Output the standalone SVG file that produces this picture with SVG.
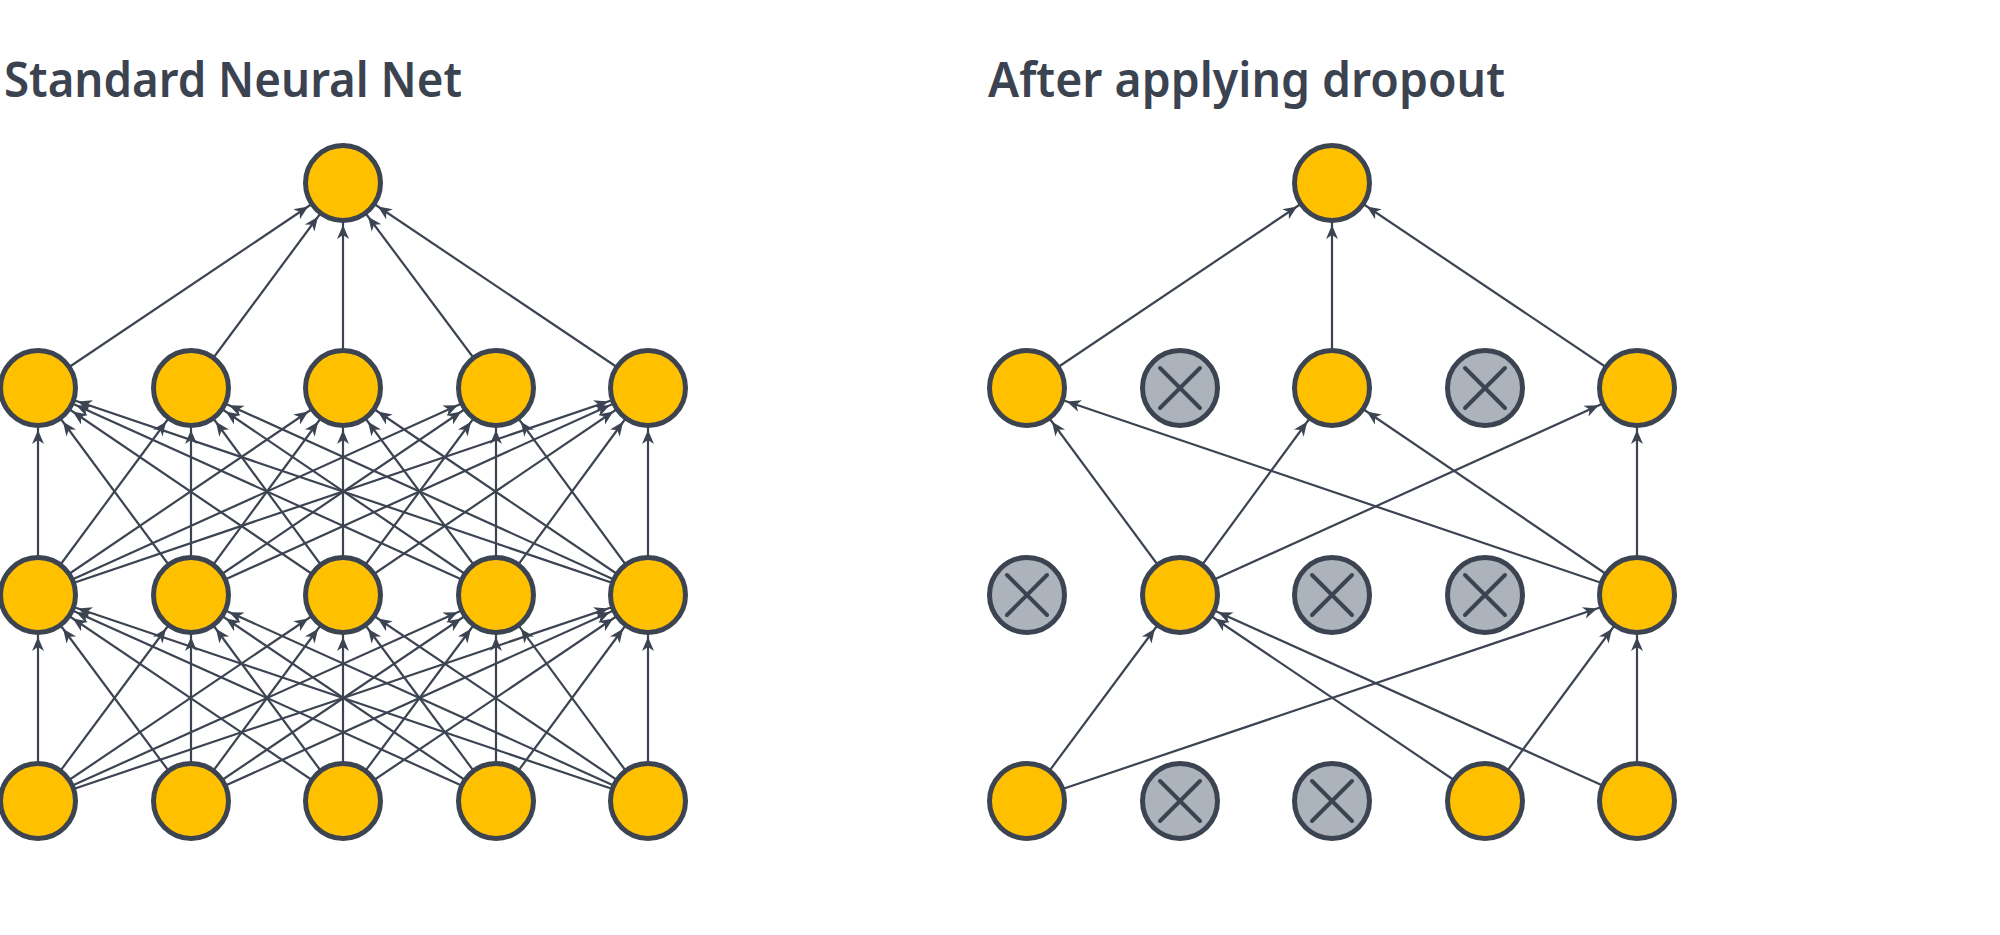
<svg xmlns="http://www.w3.org/2000/svg" width="2000" height="935" viewBox="0 0 2000 935">
<style>
.t{font-family:"Noto Sans","Liberation Sans",sans-serif;font-weight:600;font-size:48px;fill:#3b4250}
.e{stroke:#3c4452;stroke-width:2.2;fill:none}
.n{fill:#ffc000;stroke:#3c4452;stroke-width:5}
.d{fill:#adb3bb;stroke:#3c4452;stroke-width:5}
.x{stroke:#3c4452;stroke-width:4;stroke-linecap:round}
</style>
<defs>
<marker id="ah" markerUnits="userSpaceOnUse" markerWidth="60" markerHeight="20" viewBox="-60 -10 60 20" refX="0" refY="0" orient="auto">
<path d="M-42,0 L-56,-6 L-52,0 L-56,6 Z" fill="#3c4452"/>
</marker>
</defs>
<rect width="2000" height="935" fill="#ffffff"/>
<text class="t" x="4" y="97" textLength="458" lengthAdjust="spacingAndGlyphs">Standard Neural Net</text>
<text class="t" x="988" y="97" textLength="517" lengthAdjust="spacingAndGlyphs">After applying dropout</text>
<g id="connectors">
<line class="e" x1="38" y1="801" x2="38" y2="595" marker-end="url(#ah)"/>
<line class="e" x1="38" y1="801" x2="191" y2="595" marker-end="url(#ah)"/>
<line class="e" x1="38" y1="801" x2="343" y2="595" marker-end="url(#ah)"/>
<line class="e" x1="38" y1="801" x2="496" y2="595" marker-end="url(#ah)"/>
<line class="e" x1="38" y1="801" x2="648" y2="595" marker-end="url(#ah)"/>
<line class="e" x1="191" y1="801" x2="38" y2="595" marker-end="url(#ah)"/>
<line class="e" x1="191" y1="801" x2="191" y2="595" marker-end="url(#ah)"/>
<line class="e" x1="191" y1="801" x2="343" y2="595" marker-end="url(#ah)"/>
<line class="e" x1="191" y1="801" x2="496" y2="595" marker-end="url(#ah)"/>
<line class="e" x1="191" y1="801" x2="648" y2="595" marker-end="url(#ah)"/>
<line class="e" x1="343" y1="801" x2="38" y2="595" marker-end="url(#ah)"/>
<line class="e" x1="343" y1="801" x2="191" y2="595" marker-end="url(#ah)"/>
<line class="e" x1="343" y1="801" x2="343" y2="595" marker-end="url(#ah)"/>
<line class="e" x1="343" y1="801" x2="496" y2="595" marker-end="url(#ah)"/>
<line class="e" x1="343" y1="801" x2="648" y2="595" marker-end="url(#ah)"/>
<line class="e" x1="496" y1="801" x2="38" y2="595" marker-end="url(#ah)"/>
<line class="e" x1="496" y1="801" x2="191" y2="595" marker-end="url(#ah)"/>
<line class="e" x1="496" y1="801" x2="343" y2="595" marker-end="url(#ah)"/>
<line class="e" x1="496" y1="801" x2="496" y2="595" marker-end="url(#ah)"/>
<line class="e" x1="496" y1="801" x2="648" y2="595" marker-end="url(#ah)"/>
<line class="e" x1="648" y1="801" x2="38" y2="595" marker-end="url(#ah)"/>
<line class="e" x1="648" y1="801" x2="191" y2="595" marker-end="url(#ah)"/>
<line class="e" x1="648" y1="801" x2="343" y2="595" marker-end="url(#ah)"/>
<line class="e" x1="648" y1="801" x2="496" y2="595" marker-end="url(#ah)"/>
<line class="e" x1="648" y1="801" x2="648" y2="595" marker-end="url(#ah)"/>
<line class="e" x1="38" y1="595" x2="38" y2="388" marker-end="url(#ah)"/>
<line class="e" x1="38" y1="595" x2="191" y2="388" marker-end="url(#ah)"/>
<line class="e" x1="38" y1="595" x2="343" y2="388" marker-end="url(#ah)"/>
<line class="e" x1="38" y1="595" x2="496" y2="388" marker-end="url(#ah)"/>
<line class="e" x1="38" y1="595" x2="648" y2="388" marker-end="url(#ah)"/>
<line class="e" x1="191" y1="595" x2="38" y2="388" marker-end="url(#ah)"/>
<line class="e" x1="191" y1="595" x2="191" y2="388" marker-end="url(#ah)"/>
<line class="e" x1="191" y1="595" x2="343" y2="388" marker-end="url(#ah)"/>
<line class="e" x1="191" y1="595" x2="496" y2="388" marker-end="url(#ah)"/>
<line class="e" x1="191" y1="595" x2="648" y2="388" marker-end="url(#ah)"/>
<line class="e" x1="343" y1="595" x2="38" y2="388" marker-end="url(#ah)"/>
<line class="e" x1="343" y1="595" x2="191" y2="388" marker-end="url(#ah)"/>
<line class="e" x1="343" y1="595" x2="343" y2="388" marker-end="url(#ah)"/>
<line class="e" x1="343" y1="595" x2="496" y2="388" marker-end="url(#ah)"/>
<line class="e" x1="343" y1="595" x2="648" y2="388" marker-end="url(#ah)"/>
<line class="e" x1="496" y1="595" x2="38" y2="388" marker-end="url(#ah)"/>
<line class="e" x1="496" y1="595" x2="191" y2="388" marker-end="url(#ah)"/>
<line class="e" x1="496" y1="595" x2="343" y2="388" marker-end="url(#ah)"/>
<line class="e" x1="496" y1="595" x2="496" y2="388" marker-end="url(#ah)"/>
<line class="e" x1="496" y1="595" x2="648" y2="388" marker-end="url(#ah)"/>
<line class="e" x1="648" y1="595" x2="38" y2="388" marker-end="url(#ah)"/>
<line class="e" x1="648" y1="595" x2="191" y2="388" marker-end="url(#ah)"/>
<line class="e" x1="648" y1="595" x2="343" y2="388" marker-end="url(#ah)"/>
<line class="e" x1="648" y1="595" x2="496" y2="388" marker-end="url(#ah)"/>
<line class="e" x1="648" y1="595" x2="648" y2="388" marker-end="url(#ah)"/>
<line class="e" x1="38" y1="388" x2="343" y2="183" marker-end="url(#ah)"/>
<line class="e" x1="191" y1="388" x2="343" y2="183" marker-end="url(#ah)"/>
<line class="e" x1="343" y1="388" x2="343" y2="183" marker-end="url(#ah)"/>
<line class="e" x1="496" y1="388" x2="343" y2="183" marker-end="url(#ah)"/>
<line class="e" x1="648" y1="388" x2="343" y2="183" marker-end="url(#ah)"/>
<line class="e" x1="1027" y1="801" x2="1180" y2="595" marker-end="url(#ah)"/>
<line class="e" x1="1027" y1="801" x2="1637" y2="595" marker-end="url(#ah)"/>
<line class="e" x1="1485" y1="801" x2="1180" y2="595" marker-end="url(#ah)"/>
<line class="e" x1="1485" y1="801" x2="1637" y2="595" marker-end="url(#ah)"/>
<line class="e" x1="1637" y1="801" x2="1180" y2="595" marker-end="url(#ah)"/>
<line class="e" x1="1637" y1="801" x2="1637" y2="595" marker-end="url(#ah)"/>
<line class="e" x1="1180" y1="595" x2="1027" y2="388" marker-end="url(#ah)"/>
<line class="e" x1="1180" y1="595" x2="1332" y2="388" marker-end="url(#ah)"/>
<line class="e" x1="1180" y1="595" x2="1637" y2="388" marker-end="url(#ah)"/>
<line class="e" x1="1637" y1="595" x2="1027" y2="388" marker-end="url(#ah)"/>
<line class="e" x1="1637" y1="595" x2="1332" y2="388" marker-end="url(#ah)"/>
<line class="e" x1="1637" y1="595" x2="1637" y2="388" marker-end="url(#ah)"/>
<line class="e" x1="1027" y1="388" x2="1332" y2="183" marker-end="url(#ah)"/>
<line class="e" x1="1332" y1="388" x2="1332" y2="183" marker-end="url(#ah)"/>
<line class="e" x1="1637" y1="388" x2="1332" y2="183" marker-end="url(#ah)"/>
</g>
<g id="L-top"><circle class="n" cx="343" cy="183" r="37.5"/></g>
<g id="L-h1-1"><circle class="n" cx="38" cy="388" r="37.5"/></g>
<g id="L-h1-2"><circle class="n" cx="191" cy="388" r="37.5"/></g>
<g id="L-h1-3"><circle class="n" cx="343" cy="388" r="37.5"/></g>
<g id="L-h1-4"><circle class="n" cx="496" cy="388" r="37.5"/></g>
<g id="L-h1-5"><circle class="n" cx="648" cy="388" r="37.5"/></g>
<g id="L-h2-1"><circle class="n" cx="38" cy="595" r="37.5"/></g>
<g id="L-h2-2"><circle class="n" cx="191" cy="595" r="37.5"/></g>
<g id="L-h2-3"><circle class="n" cx="343" cy="595" r="37.5"/></g>
<g id="L-h2-4"><circle class="n" cx="496" cy="595" r="37.5"/></g>
<g id="L-h2-5"><circle class="n" cx="648" cy="595" r="37.5"/></g>
<g id="L-in-1"><circle class="n" cx="38" cy="801" r="37.5"/></g>
<g id="L-in-2"><circle class="n" cx="191" cy="801" r="37.5"/></g>
<g id="L-in-3"><circle class="n" cx="343" cy="801" r="37.5"/></g>
<g id="L-in-4"><circle class="n" cx="496" cy="801" r="37.5"/></g>
<g id="L-in-5"><circle class="n" cx="648" cy="801" r="37.5"/></g>
<g id="R-top"><circle class="n" cx="1332" cy="183" r="37.5"/></g>
<g id="R-h1-1"><circle class="n" cx="1027" cy="388" r="37.5"/></g>
<g id="R-h1-2"><circle class="d" cx="1180" cy="388" r="37.5"/><path class="x" d="M1160,368 L1200,408 M1200,368 L1160,408"/></g>
<g id="R-h1-3"><circle class="n" cx="1332" cy="388" r="37.5"/></g>
<g id="R-h1-4"><circle class="d" cx="1485" cy="388" r="37.5"/><path class="x" d="M1465,368 L1505,408 M1505,368 L1465,408"/></g>
<g id="R-h1-5"><circle class="n" cx="1637" cy="388" r="37.5"/></g>
<g id="R-h2-1"><circle class="d" cx="1027" cy="595" r="37.5"/><path class="x" d="M1007,575 L1047,615 M1047,575 L1007,615"/></g>
<g id="R-h2-2"><circle class="n" cx="1180" cy="595" r="37.5"/></g>
<g id="R-h2-3"><circle class="d" cx="1332" cy="595" r="37.5"/><path class="x" d="M1312,575 L1352,615 M1352,575 L1312,615"/></g>
<g id="R-h2-4"><circle class="d" cx="1485" cy="595" r="37.5"/><path class="x" d="M1465,575 L1505,615 M1505,575 L1465,615"/></g>
<g id="R-h2-5"><circle class="n" cx="1637" cy="595" r="37.5"/></g>
<g id="R-in-1"><circle class="n" cx="1027" cy="801" r="37.5"/></g>
<g id="R-in-2"><circle class="d" cx="1180" cy="801" r="37.5"/><path class="x" d="M1160,781 L1200,821 M1200,781 L1160,821"/></g>
<g id="R-in-3"><circle class="d" cx="1332" cy="801" r="37.5"/><path class="x" d="M1312,781 L1352,821 M1352,781 L1312,821"/></g>
<g id="R-in-4"><circle class="n" cx="1485" cy="801" r="37.5"/></g>
<g id="R-in-5"><circle class="n" cx="1637" cy="801" r="37.5"/></g>
</svg>
